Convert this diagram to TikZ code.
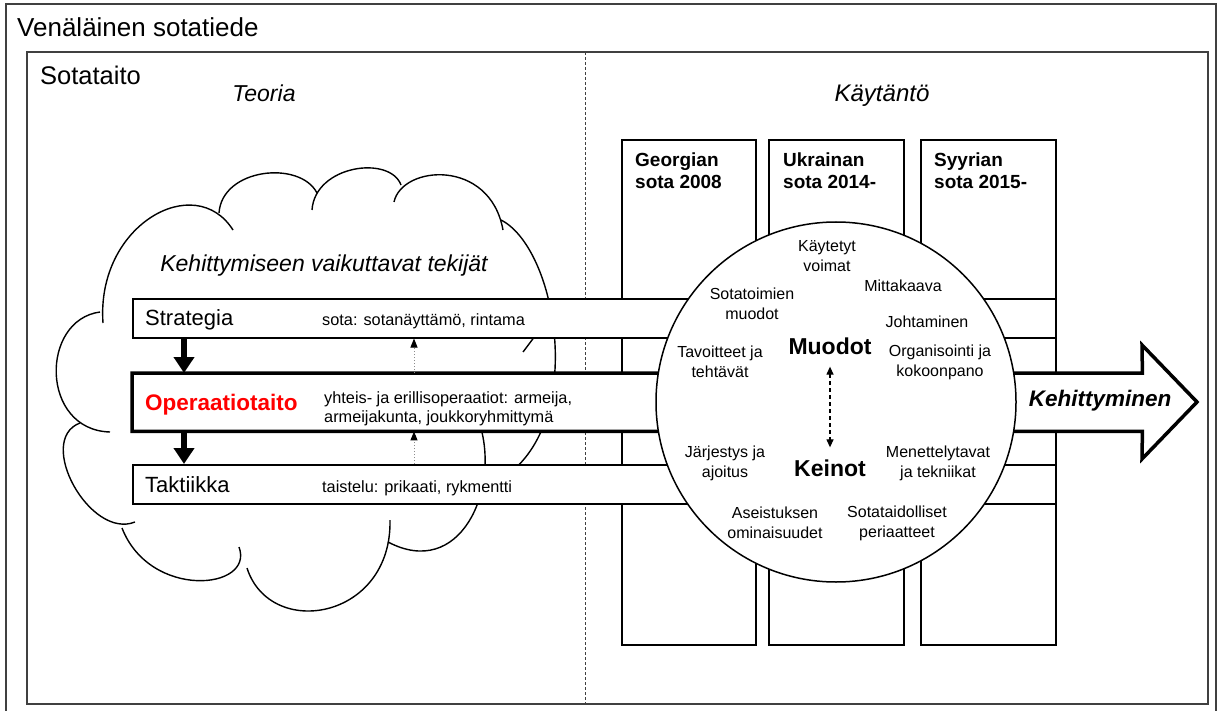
\documentclass[tikz,border=0pt]{standalone}
\usepackage{fontspec}
\setmainfont{Liberation Sans}
\usetikzlibrary{arrows.meta}
\definecolor{framegray}{HTML}{404040}
\definecolor{opred}{HTML}{FF0000}
\tikzset{
  frameline/.style={draw=framegray, line width=2pt},
  cloudline/.style={draw=black, line width=1.4pt},
  barbox/.style={rectangle, draw=black, line width=1.5pt, fill=white, inner sep=0pt, anchor=north west},
  colbox/.style={rectangle, draw=black, line width=2pt, fill=white, inner sep=0pt, anchor=north west, minimum height=505pt},
  lab/.style={inner sep=0pt, anchor=base west},
  barhead/.style={lab, font=\fontsize{22}{26}\selectfont},
  bartext/.style={lab, font=\fontsize{16.3}{19}\selectfont},
  colhead/.style={inner sep=0pt, anchor=north west, align=left, font=\fontsize{19}{22}\selectfont\bfseries},
  ctext/.style={inner sep=0pt, align=center, font=\fontsize{16}{20}\selectfont},
  cbig/.style={inner sep=0pt, font=\fontsize{23}{27}\selectfont\bfseries},
  downarrow/.style={draw=black, line width=6.5pt, -{Triangle[length=16pt,width=20pt]}},
  uparrow/.style={draw=black!45, line width=1pt, dotted, -{Triangle[length=9pt,width=7pt,color=black]}},
  dblarrow/.style={draw=black, line width=1.2pt, dash pattern=on 4pt off 3pt, {Triangle[length=8pt,width=7pt]}-{Triangle[length=8pt,width=7pt]}},
}
\begin{document}
\begin{tikzpicture}[x=1pt,y=-1pt]
\useasboundingbox (0,0) rectangle (1222,711);
% frames
\draw[frameline] (6,4) rectangle (1216,730);
\draw[frameline] (27,52) rectangle (1208,704);
\coordinate (dtop) at (585,52);
\coordinate (dbot) at (585,704);
\draw[draw=framegray, line width=0.8pt, dash pattern=on 3pt off 2pt] (dtop) -- (dbot);

% headings
\node[lab, font=\fontsize{26}{31}\selectfont] (title) at (17,37) {Venäläinen sotatiede};
\node[lab, font=\fontsize{25.5}{30}\selectfont] (sotataito) at (40,85) {Sotataito};
\node[inner sep=0pt, anchor=base, font=\fontsize{23}{27}\selectfont\itshape] (teoria) at (264,102) {Teoria};
\node[inner sep=0pt, anchor=base, font=\fontsize{24}{28}\selectfont\itshape] (kaytanto) at (882,102) {Käytäntö};

% columns
\node[colbox, minimum width=134pt] (geo) at (621,139) {};
\node[colbox, minimum width=135pt] (ukr) at (768,139) {};
\node[colbox, minimum width=135pt] (syy) at (920,139) {};
\node[colhead] (geoh) at (635,153) {Georgian\\sota 2008};
\node[colhead] (ukrh) at (783,153) {Ukrainan\\sota 2014-};
\node[colhead] (syyh) at (934,153) {Syyrian\\sota 2015-};

% cloud
\draw[cloudline] (103,323) .. controls (96,225) and (195,170) .. (233,230);
\draw[cloudline] (219,213) .. controls (222,168) and (300,160) .. (317,193);
\draw[cloudline] (312,210) .. controls (315,165) and (390,155) .. (401,185);
\draw[cloudline] (394,202) .. controls (402,165) and (490,158) .. (503,230);
\draw[cloudline] (501,220) .. controls (560,250) and (590,440) .. (490,485);
\draw[cloudline] (523,352) -- (535,336);
\draw[cloudline] (480,425) .. controls (500,490) and (460,580) .. (388,542);
\draw[cloudline] (390,520) .. controls (392,620) and (270,640) .. (247,568);
\draw[cloudline] (239,547) .. controls (255,590) and (150,600) .. (122,528);
\draw[cloudline] (135,522) .. controls (90,540) and (35,440) .. (80,423);
\draw[cloudline] (110,432) .. controls (40,430) and (40,320) .. (100,312);
\node[inner sep=0pt, anchor=base, font=\fontsize{23}{27}\selectfont\itshape] (cloudtxt) at (324,271) {Kehittymiseen vaikuttavat tekijät};

% bars
\node[barbox, minimum width=923pt, minimum height=39pt] (strat) at (132,298) {};
\node[barbox, minimum width=923pt, minimum height=39pt] (takt) at (132,464) {};
\node[inner sep=0pt, anchor=north west, minimum width=1010pt, minimum height=58pt] (op) at (132,373) {};
\coordinate (headtop) at (1142,345);
\coordinate (tip) at (1197,402);
\coordinate (headbot) at (1142,459);
\draw[line width=3.5pt, fill=white, line join=miter] (op.north west) -- (op.north east) -- (headtop) -- (tip) -- (headbot) -- (op.south east) -- (op.south west) -- cycle;

\node[barhead] (strattxt) at (145,325) {Strategia};
\node[bartext] (stratdesc) at (322,325) {sota: sotanäyttämö, rintama};
\node[lab, font=\fontsize{22.5}{27}\selectfont\bfseries, text=opred] (optxt) at (145,410) {Operaatiotaito};
\node[inner sep=0pt, anchor=west, align=left, font=\fontsize{16.3}{19}\selectfont] (opdesc) at (324,409) {yhteis- ja erillisoperaatiot: armeija,\\armeijakunta, joukkoryhmittymä};
\node[barhead] (takttxt) at (145,492) {Taktiikka};
\node[bartext] (taktdesc) at (322,492) {taistelu: prikaati, rykmentti};

% arrows between levels
\coordinate (ax) at (184,0);
\coordinate (ux) at (414,0);
\draw[downarrow] (strat.south -| ax) -- (op.north -| ax);
\draw[downarrow] (op.south -| ax) -- (takt.north -| ax);
\draw[uparrow] (op.north -| ux) -- (strat.south -| ux);
\draw[uparrow] (takt.north -| ux) -- (op.south -| ux);

% circle
\node[circle, draw=black, line width=1.5pt, fill=white, minimum size=360pt, inner sep=0pt] (circ) at (836,402) {};
\node[ctext] (c1) at (827,256) {Käytetyt\\voimat};
\node[ctext] (c2) at (903,286) {Mittakaava};
\node[ctext] (c3) at (752,304) {Sotatoimien\\muodot};
\node[ctext] (c4) at (927,322) {Johtaminen};
\node[ctext] (c5) at (720,362) {Tavoitteet ja\\tehtävät};
\node[ctext] (c6) at (940,362) {Organisointi ja\\kokoonpano};
\node[ctext] (c7) at (725,463) {Järjestys ja\\ajoitus};
\node[ctext] (c8) at (938,463) {Menettelytavat\\ja tekniikat};
\node[ctext] (c9) at (775,523) {Aseistuksen\\ominaisuudet};
\node[ctext] (c10) at (897,523) {Sotataidolliset\\periaatteet};
\node[cbig] (muodot) at (830,346) {Muodot};
\node[cbig] (keinot) at (830,468) {Keinot};
\draw[dblarrow, shorten >=12pt, shorten <=12pt] (muodot.south) -- (keinot.north);

\node[inner sep=0pt, font=\fontsize{22.5}{27}\selectfont\bfseries\itshape] (kehit) at (1100,401) {Kehittyminen};
\end{tikzpicture}
\end{document}
